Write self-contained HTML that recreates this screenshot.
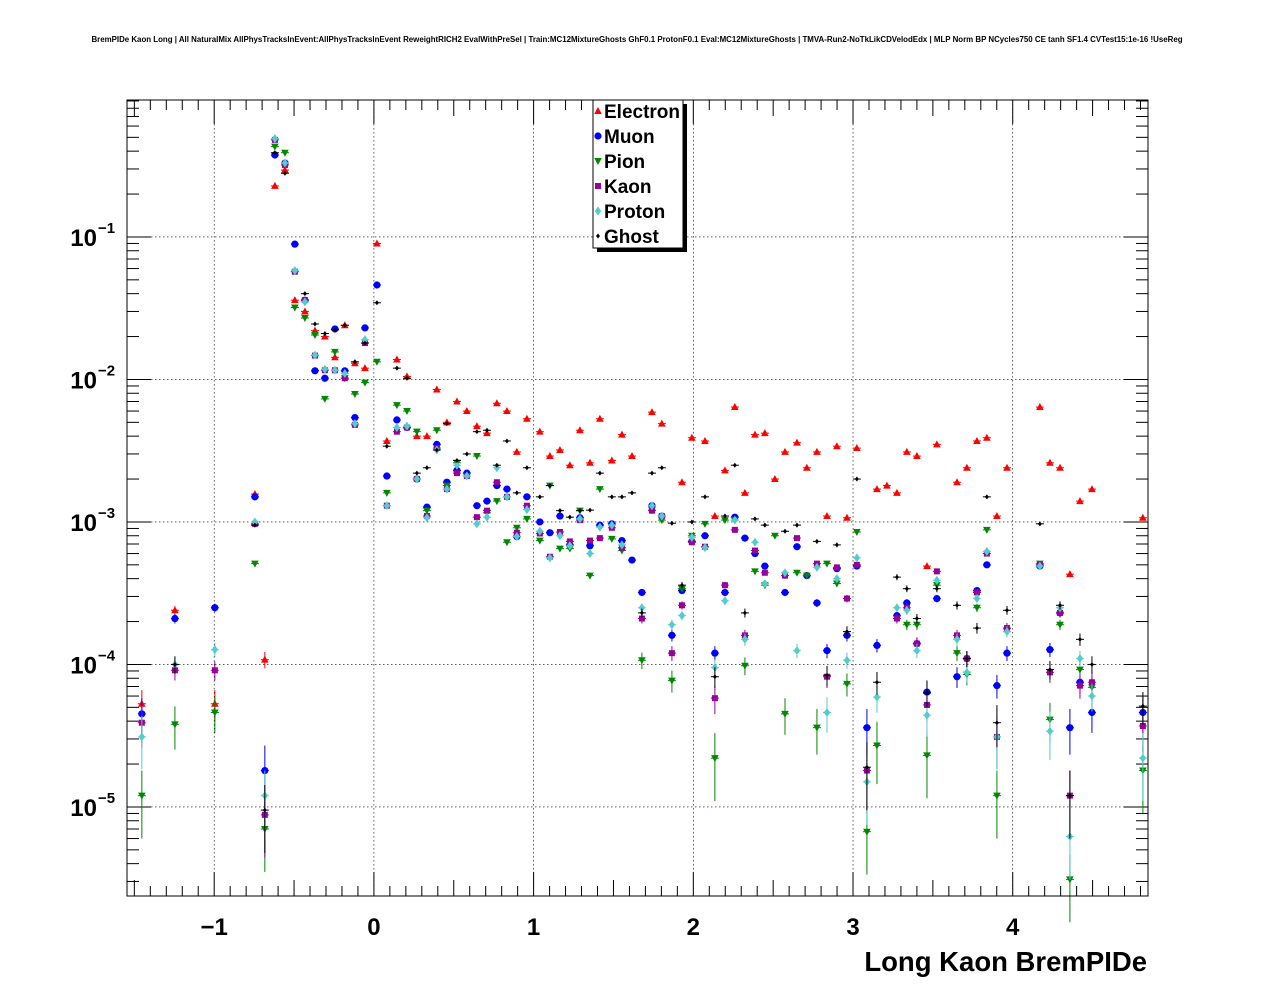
<!DOCTYPE html>
<html><head><meta charset="utf-8"><style>
html,body{margin:0;padding:0;background:#fff;}
svg{display:block;font-family:"Liberation Sans",sans-serif;}
</style></head><body>
<svg id="chart" width="1276" height="996" viewBox="0 0 1276 996" xmlns="http://www.w3.org/2000/svg">
<rect x="0" y="0" width="1276" height="996" fill="#fff"/>
<text x="637" y="42" font-size="7.9" font-weight="bold" text-anchor="middle">BremPIDe Kaon Long | All NaturalMix AllPhysTracksInEvent:AllPhysTracksInEvent ReweightRICH2 EvalWithPreSel | Train:MC12MixtureGhosts GhF0.1 ProtonF0.1 Eval:MC12MixtureGhosts | TMVA-Run2-NoTkLikCDVelodEdx | MLP Norm BP NCycles750 CE tanh SF1.4 CVTest15:1e-16 !UseReg</text>
<g id="grid"></g>
<g id="axes"></g>
<g id="marks"></g>
<rect x="127" y="100" width="1021" height="796" fill="none" stroke="#000" stroke-width="1"/>
<text x="1147" y="971" font-size="27.5" font-weight="bold" text-anchor="end">Long Kaon BremPIDe</text>
<g id="legend"></g>
</svg>
<script>
const xCenters=[-1.453,-1.246,-0.996,-0.745,-0.683,-0.620,-0.557,-0.495,-0.432,-0.369,-0.307,-0.244,-0.182,-0.119,-0.056,0.019,0.081,0.144,0.207,0.269,0.332,0.394,0.457,0.520,0.582,0.645,0.708,0.770,0.833,0.895,0.958,1.039,1.102,1.165,1.227,1.290,1.353,1.415,1.490,1.553,1.616,1.678,1.741,1.803,1.866,1.929,1.991,2.073,2.135,2.198,2.260,2.323,2.386,2.448,2.511,2.574,2.649,2.711,2.774,2.837,2.899,2.962,3.024,3.087,3.150,3.212,3.275,3.337,3.400,3.463,3.525,3.588,3.651,3.713,3.776,3.838,3.901,3.964,4.170,4.233,4.296,4.358,4.421,4.496,4.815];
const electron=[5.3e-5,2.4e-4,5.3e-5,1.57e-3,1.08e-4,.228,.295,.036,.030,.022,.020,.0143,.024,.013,.012,.09,.0037,.0138,.0105,.004,.004,.0085,.005,.007,.006,.0047,.0042,.0068,.006,.0031,.0053,.0043,.0029,.0032,.0025,.0044,.0026,.0053,.0027,.0041,.0029,null,.0059,.0049,null,.0019,.0039,.0037,.0011,.0023,.0064,.0016,.0041,.0042,.002,.0031,.0036,.0024,.0031,.0011,.0034,.00107,.0033,null,.0017,.0018,.0016,.0031,.0029,4.9e-4,.0035,null,.0019,.0024,.0037,.0039,.0011,.0024,.0064,.0026,.0024,4.3e-4,.0014,.0017,.00107];
const muon=[4.5e-5,2.1e-4,2.5e-4,1.5e-3,1.8e-5,.376,.33,.089,.036,.0115,.0102,.0226,.0115,.0054,.023,.046,.0021,.0052,.0046,.002,.00127,.0035,.0019,.0023,.0022,.0013,.0014,.0018,.0017,7.9e-4,.0015,.001,8.4e-4,.0011,6.9e-4,.00107,6.8e-4,9.5e-4,9.7e-4,7.4e-4,5.4e-4,3.2e-4,.0013,.0011,1.6e-4,3.3e-4,7.3e-4,8e-4,1.2e-4,3.2e-4,.00108,7.7e-4,6e-4,4.9e-4,null,3.2e-4,6.7e-4,4.2e-4,2.7e-4,1.25e-4,4.7e-4,1.6e-4,4.9e-4,3.6e-5,1.36e-4,null,2.2e-4,2.7e-4,1.4e-4,6.4e-5,2.9e-4,null,8.2e-5,1.1e-4,3.3e-4,5e-4,7.1e-5,1.2e-4,4.9e-4,1.27e-4,2.3e-4,3.6e-5,7.5e-5,4.6e-5,4.6e-5];
const pion=[1.2e-5,3.8e-5,4.6e-5,5.1e-4,7e-6,.43,.39,.032,.027,.0205,.0073,.0156,.0102,.0079,.0095,.0133,.0016,.0066,.006,.0043,.0012,.0044,.0018,.0026,.0021,.0029,.00116,.0014,7.2e-4,9.1e-4,.00105,7.4e-4,.0018,6.5e-4,6.5e-4,.0012,4.2e-4,.0017,7.6e-4,6.3e-4,null,1.07e-4,.00121,.00103,7.7e-5,3.4e-4,8e-4,9.7e-4,2.2e-5,.00103,.00103,9.8e-5,4.5e-4,3.6e-4,8e-4,4.5e-5,4.4e-4,4.2e-4,3.6e-5,5.1e-4,3.7e-4,7.3e-5,8.5e-4,6.7e-6,2.7e-5,null,2.1e-4,1.9e-4,1.9e-4,2.3e-5,3.6e-4,null,1.2e-4,8.5e-5,2.5e-4,8.8e-4,1.2e-5,1.7e-4,5.1e-4,4.1e-5,1.9e-4,3.1e-6,9.2e-5,6.9e-5,1.8e-5];
const kaon=[3.9e-5,9.1e-5,9.1e-5,9.7e-4,8.8e-6,.48,.32,.057,.036,.0147,.0116,.0116,.0102,.0048,.018,null,.0013,.0043,.0046,.002,.0011,.0033,.0017,.0022,.0021,.00108,.0012,.0019,.0015,8.4e-4,.0013,8.3e-4,5.7e-4,8.5e-4,7.3e-4,.00103,7.4e-4,7.7e-4,9.1e-4,6.6e-4,null,2.1e-4,.0012,.0011,1.2e-4,2.6e-4,7.2e-4,6.7e-4,5.8e-5,3.6e-4,8.8e-4,1.6e-4,6.3e-4,4.4e-4,null,4.2e-4,7.7e-4,null,5.1e-4,8.2e-5,4.8e-4,2.9e-4,5e-4,1.8e-5,null,null,2.1e-4,2.5e-4,1.4e-4,5.2e-5,4.5e-4,null,1.6e-4,1.1e-4,3.2e-4,6e-4,3.1e-5,1.8e-4,5e-4,8.8e-5,2.3e-4,1.2e-5,7.1e-5,7.5e-5,3.7e-5];
const proton=[3.1e-5,1e-4,1.27e-4,1e-3,1.2e-5,.49,.33,.058,.035,.0148,.0118,.0116,.011,.0049,.019,null,.0013,.0046,.0047,.002,.00107,.0032,.0017,.0025,.0021,9.7e-4,.00108,.0024,.0015,7.9e-4,.00122,8.6e-4,5.6e-4,8e-4,6.8e-4,.00105,6e-4,9.2e-4,9.5e-4,6.9e-4,null,2.5e-4,.0013,.0011,1.9e-4,2.2e-4,7.8e-4,6.6e-4,9.5e-5,2.8e-4,.00103,1.5e-4,7.2e-4,3.7e-4,null,4.4e-4,1.25e-4,null,4.8e-4,4.6e-5,4e-4,1.07e-4,5.6e-4,1.5e-5,5.9e-5,null,2.5e-4,2.4e-4,1.25e-4,4.4e-5,3.9e-4,null,1.5e-4,8.8e-5,2.9e-4,6.2e-4,3.1e-5,1.7e-4,4.9e-4,3.4e-5,2.5e-4,6.2e-6,1.1e-4,6e-5,2.2e-5];
const ghost=[null,1e-4,null,9.5e-4,9.5e-6,.39,.28,null,.04,.0245,.021,.0223,.024,.0133,.018,.0345,.0034,.012,.0102,.0022,.0024,.0032,.0049,.0027,.003,.0043,.0044,.0025,.0037,.0016,.0024,.0015,.0018,.0012,.00108,.0012,.00121,.0022,.0015,.0015,.0016,2.3e-4,.0022,.0024,9.8e-4,3.6e-4,1e-3,.0015,8.2e-5,.0011,.0025,2.3e-4,.00105,9.5e-4,null,8.6e-4,9.5e-4,null,7.3e-4,8.4e-5,6.9e-4,1.7e-4,.002,1.9e-5,7.5e-5,null,4.1e-4,3.4e-4,2.1e-4,6.3e-5,3.4e-4,null,2.6e-4,1.1e-4,1.8e-4,.0015,3.9e-5,2.4e-4,9.7e-4,9.2e-5,2.6e-4,1.2e-5,1.5e-4,1e-4,5.1e-5];
const seriesNames=["Electron","Muon","Pion","Kaon","Proton","Ghost"];
const xTickLabels=["\u22121","0","1","2","3","4"];
const xTickValues=[-1,0,1,2,3,4];
const yDecades=[-1,-2,-3,-4,-5];

const NS="http://www.w3.org/2000/svg";
const X0=127,X1=1148,Y0=100,Y1=896;
const XMIN=-1.546,XMAX=4.847;
const LMAX=-0.039,LMIN=-5.625;
function sx(v){return X0+(v-XMIN)/(XMAX-XMIN)*(X1-X0);}
function sy(v){return Y0+(LMAX-Math.log10(v))/(LMAX-LMIN)*(Y1-Y0);}
function mk(tag,attrs,parent){const e=document.createElementNS(NS,tag);for(const k in attrs)e.setAttribute(k,attrs[k]);parent.appendChild(e);return e;}
const grid=document.getElementById('grid'),axes=document.getElementById('axes'),marks=document.getElementById('marks'),legend=document.getElementById('legend');

xTickValues.forEach((v,i)=>{
  const g=mk('line',{x1:sx(v),x2:sx(v),y1:Y0,y2:Y1,stroke:'#000','stroke-width':0.6,'stroke-dasharray':'1.5,2.5'},grid);
  
  
  const t=mk('text',{x:sx(v),y:935,'font-size':24,'font-weight':'bold','text-anchor':'middle'},axes);
  t.textContent=xTickLabels[i];
  
  
});
for(let k=-15;k<=48;k++){
  const v=k/10;if(v<XMIN||v>XMAX)continue;
  const major=k%10===0, mid=k%5===0;
  const L=major?24:(mid?16:10);
  mk('line',{x1:sx(v),x2:sx(v),y1:Y1,y2:Y1-L,stroke:'#000','stroke-width':1},axes);
  mk('line',{x1:sx(v),x2:sx(v),y1:Y0,y2:Y0+L,stroke:'#000','stroke-width':1},axes);
}
yDecades.forEach(d=>{
  const y=sy(Math.pow(10,d));
  const g=mk('line',{x1:X0,x2:X1,y1:y,y2:y,stroke:'#000','stroke-width':0.6,'stroke-dasharray':'1.5,2.5'},grid);
  
  
  const t=mk('text',{x:97,y:y+9,'font-size':24,'font-weight':'bold','text-anchor':'end'},axes);
  t.textContent='10';
  
  
  const s=mk('text',{x:98,y:y-4,'font-size':15,'font-weight':'bold','text-anchor':'start'},axes);
  s.textContent='\u2212'+(-d);
  
  
});
for(let d=-6;d<=0;d++){for(let m=1;m<=9;m++){
  const v=m*Math.pow(10,d);const y=sy(v);if(y<Y0||y>Y1)continue;
  const L=m===1?24:12;
  mk('line',{x1:X0,x2:X0+L,y1:y,y2:y,stroke:'#000','stroke-width':1},axes);
  mk('line',{x1:X1,x2:X1-L,y1:y,y2:y,stroke:'#000','stroke-width':1},axes);
}}

const styles=[
  {c:'#ff0000',m:'tri'},{c:'#0000ff',m:'circ'},{c:'#008800',m:'tridown'},
  {c:'#990099',m:'sq'},{c:'#55cccc',m:'diam'},{c:'#000000',m:'small'}];
function marker(shape,x,y,c,parent){
  let e;
  if(shape==='tri')e=mk('polygon',{points:`${x},${y-4} ${x-3.8},${y+3} ${x+3.8},${y+3}`,fill:c},parent);
  else if(shape==='tridown')e=mk('polygon',{points:`${x},${y+4} ${x-3.8},${y-3} ${x+3.8},${y-3}`,fill:c},parent);
  else if(shape==='circ')e=mk('circle',{cx:x,cy:y,r:3.6,fill:c},parent);
  else if(shape==='sq')e=mk('rect',{x:x-3,y:y-3,width:6,height:6,fill:c},parent);
  else if(shape==='diam')e=mk('polygon',{points:`${x},${y-4.5} ${x+3.2},${y} ${x},${y+4.5} ${x-3.2},${y}`,fill:c},parent);
  else e=mk('polygon',{points:`${x},${y-2.5} ${x+2},${y} ${x},${y+2.5} ${x-2},${y}`,fill:c},parent);
  return e;
}
const allSeries=[electron,muon,pion,kaon,proton,ghost];
allSeries.forEach((arr,si)=>{
  const st=styles[si];
  const g=mk('g',{},marks);
  
  
  arr.forEach((v,i)=>{
    if(v==null)return;
    const x=sx(xCenters[i]),y=sy(v);
    const rel=Math.min(0.5,1.2e-5/v+0.02);
    mk('line',{x1:x,x2:x,y1:sy(v*(1+rel)),y2:sy(v*(1-rel)),stroke:st.c,'stroke-width':1},g);
    mk('line',{x1:x-4,x2:x+4,y1:y,y2:y,stroke:st.c,'stroke-width':1},g);
    const p=marker(st.m,x,y,st.c,g);
    
    
  });
});

mk('rect',{x:597,y:104,width:90,height:148,fill:'#000'},legend);
mk('rect',{x:593,y:100,width:90,height:148,fill:'#fff',stroke:'#000','stroke-width':1},legend);
seriesNames.forEach((n,i)=>{
  const y=111+i*25;
  const e=mk('g',{},legend);
  
  
  marker(styles[i].m,598,y,styles[i].c,e);
  const t=mk('text',{x:604,y:y+7,'font-size':19,'font-weight':'bold'},e);
  t.textContent=n;
});
</script>
</body></html>
